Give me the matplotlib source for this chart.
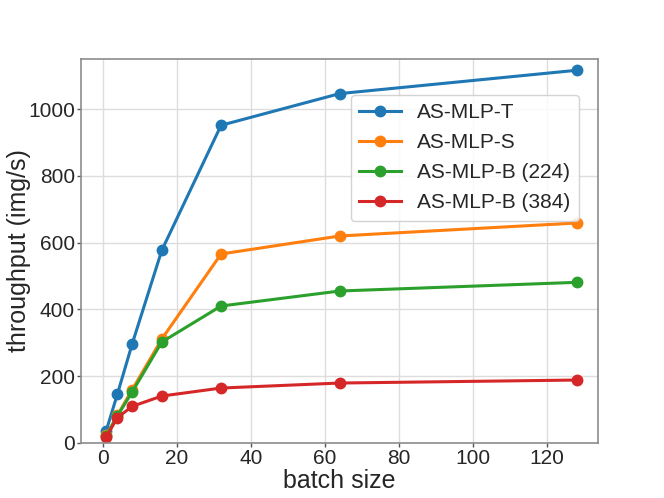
import matplotlib
matplotlib.use("Agg")
import matplotlib.pyplot as plt

# data
batch_size = [1, 4, 8, 16, 32, 64, 128]
tput_t = [36, 145, 296, 577, 952, 1047, 1117]
tput_s = [22, 82, 159, 311, 566, 620, 659]
tput_b224 = [20, 80, 152, 302, 410, 455, 481]
tput_b384 = [17, 75, 109, 140, 164, 179, 188]
labels = ['AS-MLP-T', 'AS-MLP-S', 'AS-MLP-B (224)', 'AS-MLP-B (384)']

plt.rcParams['font.family'] = ['Liberation Sans', 'DejaVu Sans']
text_col = '#262626'

fig, ax = plt.subplots(figsize=(6.64, 4.98), dpi=100)
fig.subplots_adjust(left=0.122, right=0.9, bottom=0.111, top=0.881)

series = [tput_t, tput_s, tput_b224, tput_b384]
colors = ['#1f77b4', '#ff7f0e', '#2ca02c', '#d62728']
for ys, lab, c in zip(series, labels, colors):
    ax.plot(batch_size, ys, '-o', color=c, label=lab, linewidth=2.2, markersize=7.5)

ax.set_ylim(0, 1150)
ax.set_xlim(-5.8, 133.6)
ax.set_yticks([0, 200, 400, 600, 800, 1000])
ax.set_xticks([0, 20, 40, 60, 80, 100, 120])

ax.grid(True, color='#dddddd', linewidth=1)
ax.set_axisbelow(True)
for s in ax.spines.values():
    s.set_color('#8c8c8c')
    s.set_linewidth(1.2)
ax.tick_params(labelsize=15, labelcolor=text_col, color='#555555',
               length=3, width=1, pad=1.5, direction='out')

ax.set_xlabel('batch size', fontsize=18, color=text_col, labelpad=1)
ax.set_ylabel('throughput (img/s)', fontsize=18, color=text_col, labelpad=-2)

leg = ax.legend(loc='upper right', bbox_to_anchor=(0.964, 0.907), borderaxespad=0,
                fontsize=15, frameon=True, fancybox=True, framealpha=0.85,
                edgecolor='#cccccc', labelspacing=0.53)
for t in leg.get_texts():
    t.set_color(text_col)

fig.savefig('out.png', dpi=100)
